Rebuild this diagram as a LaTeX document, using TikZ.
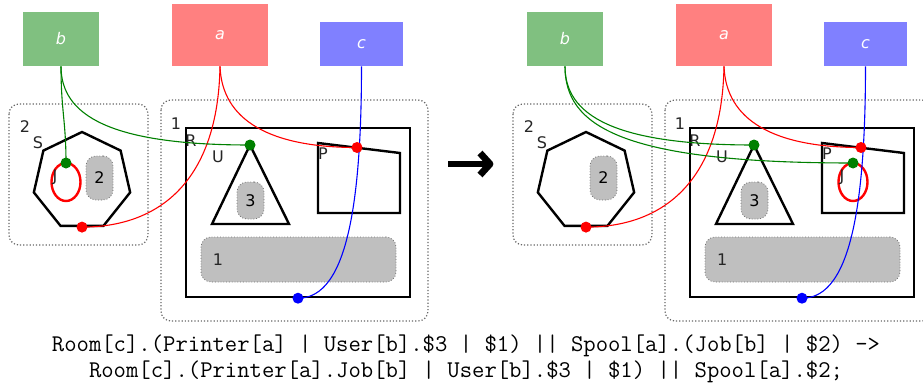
\documentclass[tikz,border=0pt]{standalone}
\usepackage{fontspec}
\newfontfamily\lblfont{DejaVu Sans}
\usetikzlibrary{shapes.geometric,positioning}

\definecolor{hb}{RGB}{128,192,128}
\definecolor{ha}{RGB}{255,128,128}
\definecolor{hc}{RGB}{128,128,255}
\definecolor{linkb}{RGB}{0,128,0}

\begin{document}
\begin{tikzpicture}[x=0.5pt,y=-0.5pt,
	handle/.style={fill=#1, inner sep=0pt, text=white, font=\lblfont\itshape\fontsize{8}{9}\selectfont},
	region/.style={draw=black!60, densely dotted, line width=0.6pt, rounded corners=5pt},
	ctrl/.style={draw, line width=1.2pt},
	site/.style={draw=black!55, densely dotted, fill=black!25, rounded corners=5pt, inner sep=0pt, font=\lblfont\fontsize{8}{9}\selectfont},
	lbl/.style={inner sep=0pt, text=black!85, font=\lblfont\fontsize{8}{9}\selectfont},
	link/.style={draw=#1, line width=0.55pt}]
\useasboundingbox (0,0) rectangle (923,391);
\clip (0,0) rectangle (923,391);

\foreach \s/\dx/\jx in {L/0/66, R/504/349}{
\begin{scope}[shift={(\dx,0)}]
	\node[handle=hb, minimum width=38pt, minimum height=27pt] (b\s) at (61,39) {b};
	\node[handle=ha, minimum width=48pt, minimum height=31pt] (a\s) at (220,35) {a};
	\node[handle=hc, minimum width=41.5pt, minimum height=22pt] (c\s) at (361.5,44) {c};

	\draw[region] (9,104) rectangle (148,245);
	\draw[region] (161,100) rectangle (428,321);
	\node[lbl] (two\s) at (25,127) {2};
	\node[lbl] (one\s) at (176,124) {1};

	% spool
	\node[ctrl, regular polygon, regular polygon sides=7, minimum size=49.4pt, inner sep=0pt] (sp\s) at (82,181.4) {};
	\node[lbl] (S\s) at (38,143) {S};
	\node[site, minimum width=13.5pt, minimum height=22pt] (st\s) at (99.5,178) {2};

	% room
	\node[ctrl, minimum width=112pt, minimum height=84.5pt, inner sep=0pt] (rm\s) at (298,212.5) {};
	\node[lbl] (R\s) at (191,141) {R};
	\draw[ctrl] (250,145) coordinate (u\s) -- (289,224) -- (212,224) -- cycle;
	\node[lbl] (U\s) at (218,157) {U};
	\node[site, minimum width=13.5pt, minimum height=18.5pt] (su\s) at (250.5,200.5) {3};
	\draw[ctrl] (318,143) -- (400,153) -- (400,213) -- (318,213) -- cycle;
	\coordinate (p\s) at (357,147.5);
	\node[lbl] (P\s) at (323,154) {P};
	\node[site, minimum width=97.5pt, minimum height=22.5pt] (sr\s) at (298.5,259.5) {};
	\node[lbl, right=6pt of sr\s.west] (sone\s) {1};

	% job
	\draw[red, line width=1.2pt] (\jx,182) ellipse [x radius=7.25pt, y radius=9.5pt];
	\node[lbl] (J\s) at (\jx-11,177) {J};
	\coordinate (j\s) at (\jx,163);

	% povezave
	\draw[link=red] (a\s.south) .. controls +(-2,114) and +(78,0) .. (sp\s.side 4);
	\draw[link=red] (a\s.south) .. controls +(2,54) and +(-87,0) .. (p\s);
	\draw[link=blue] (c\s.south) .. controls +(0,164) and +(42,0) .. (rm\s.south);
	\draw[link=linkb] (b\s.south) .. controls +(0,49) and +(-140,0) .. (u\s);
	\fill[red] (sp\s.side 4) circle (2.75pt) (p\s) circle (2.75pt);
	\fill[blue] (rm\s.south) circle (2.75pt);
	\fill[linkb] (u\s) circle (2.75pt);
\end{scope}
}

\draw[link=linkb] (bL.south) .. controls +(0,44) and +(0,-42) .. (jL);
\draw[link=linkb] (bR.south) .. controls +(0,59) and +(-233,0) .. (jR);
\fill[linkb] (jL) circle (2.75pt) (jR) circle (2.75pt);

% reakcija
\draw[line width=3.4pt] (448,164) -- (486,164);
\draw[line width=3.4pt, line join=round] (480,153) -- (490,164) -- (480,175);

\node[font=\ttfamily\fontsize{12}{13}\selectfont, align=center] (rule) at (466,359)
	{Room[c].(Printer[a] | User[b].\$3 | \$1) || Spool[a].(Job[b] | \$2) ->\\
	 Room[c].(Printer[a].Job[b] | User[b].\$3 | \$1) || Spool[a].\$2;};
\end{tikzpicture}
\end{document}
